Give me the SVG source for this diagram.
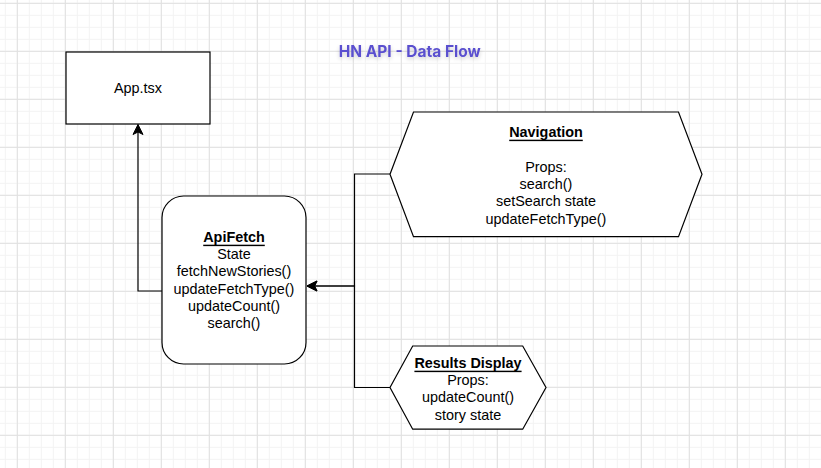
<svg xmlns="http://www.w3.org/2000/svg" width="821" height="468" viewBox="0 0 821 468">
  <defs>
    <pattern id="minor" patternUnits="userSpaceOnUse" x="16.8" y="2.8" width="12" height="12">
      <rect x="0" y="0" width="1" height="12" fill="#f3f3f3"/>
      <rect x="0" y="0" width="12" height="1" fill="#f3f3f3"/>
    </pattern>
    <pattern id="major" patternUnits="userSpaceOnUse" x="16.8" y="2.8" width="48" height="48">
      <rect x="0" y="0" width="1" height="48" fill="#e0e0e0"/>
      <rect x="0" y="0" width="48" height="1" fill="#e0e0e0"/>
    </pattern>
    <marker id="arrow" markerUnits="userSpaceOnUse" markerWidth="14" markerHeight="14" viewBox="-12 -7 14 14" refX="0" refY="0" orient="auto">
      <path d="M0,0 L-10,-5 L-7.5,0 L-10,5 Z" fill="#000" stroke="#000" stroke-width="1"/>
    </marker>
    <filter id="glow" x="-10%" y="-50%" width="120%" height="200%">
      <feGaussianBlur in="SourceAlpha" stdDeviation="2"/>
      <feOffset dx="0" dy="2" result="b"/>
      <feComponentTransfer><feFuncA type="linear" slope="0.2"/></feComponentTransfer>
      <feMerge><feMergeNode/><feMergeNode in="SourceGraphic"/></feMerge>
    </filter>
    <style>
      .shape { fill: #ffffff; stroke: #000000; stroke-width: 1.2; }
      .edge { fill: none; stroke: #000000; stroke-width: 1.2; }
      .lbl { font-family: "Liberation Sans", Arial, Helvetica, sans-serif; font-size: 14.4px; fill: #000000; text-anchor: middle; dominant-baseline: central; }
      .hd { font-weight: bold; text-decoration: underline; }
      .title { font-family: Inter, "Liberation Sans", sans-serif; font-size: 15.5px; font-weight: 700; fill: #5a4fcf; text-anchor: middle; dominant-baseline: central; }
    </style>
  </defs>

  <rect x="0" y="0" width="821" height="468" fill="#ffffff"/>
  <rect x="0" y="0" width="821" height="468" fill="url(#minor)"/>
  <rect x="0" y="0" width="821" height="468" fill="url(#major)"/>

  <g id="title">
    <text class="title" x="409.7" y="51.8" filter="url(#glow)">HN API - Data Flow</text>
  </g>

  <g id="connectors">
    <path class="edge" d="M162,291 H138 V124.5" marker-end="url(#arrow)"/>
    <path class="edge" d="M390,174 H354.5 V286 H307" marker-end="url(#arrow)"/>
    <path class="edge" d="M390,387.5 H354.5 V286 H307" marker-end="url(#arrow)"/>
  </g>

  <g id="app">
    <rect class="shape" x="66" y="52" width="144" height="72"/>
    <text class="lbl" x="138" y="88">App.tsx</text>
  </g>

  <g id="apifetch">
    <rect class="shape" x="162" y="196" width="144" height="168" rx="21.6" ry="21.6"/>
    <text class="lbl hd" x="234" y="236.7">ApiFetch</text>
    <text class="lbl" x="234" y="254">State</text>
    <text class="lbl" x="234" y="271.3">fetchNewStories()</text>
    <text class="lbl" x="234" y="288.6">updateFetchType()</text>
    <text class="lbl" x="234" y="305.9">updateCount()</text>
    <text class="lbl" x="234" y="323.2">search()</text>
  </g>

  <g id="navigation">
    <polygon class="shape" points="413.5,112 678.5,112 702,174.3 678.5,236.6 413.5,236.6 390,174.3"/>
    <text class="lbl hd" x="546" y="131.7">Navigation</text>
    <text class="lbl" x="546" y="166.7">Props:</text>
    <text class="lbl" x="546" y="184">search()</text>
    <text class="lbl" x="546" y="201.3">setSearch state</text>
    <text class="lbl" x="546" y="218.6">updateFetchType()</text>
  </g>

  <g id="results">
    <polygon class="shape" points="412.7,346 522.7,346 546,387.5 522.7,429.2 412.7,429.2 390,387.5"/>
    <text class="lbl hd" x="468" y="362.7">Results Display</text>
    <text class="lbl" x="468" y="380">Props:</text>
    <text class="lbl" x="468" y="397.3">updateCount()</text>
    <text class="lbl" x="468" y="414.6">story state</text>
  </g>
</svg>
